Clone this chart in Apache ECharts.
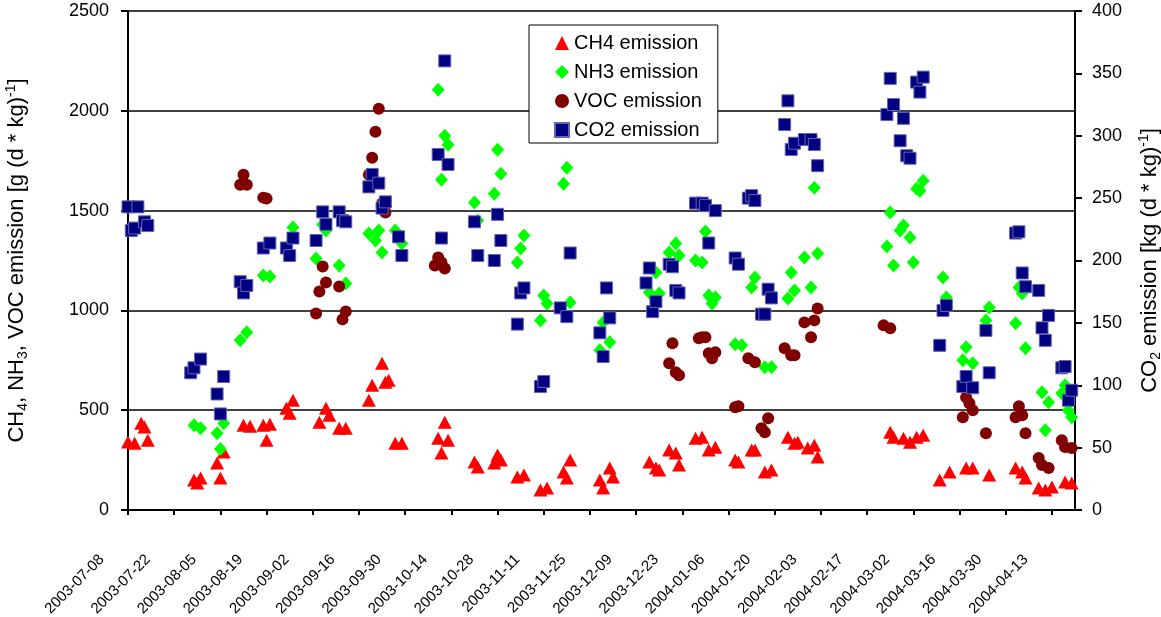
<!DOCTYPE html>
<html>
<head>
<meta charset="utf-8">
<script src="https://cdn.jsdelivr.net/npm/echarts@6/dist/echarts.min.js"></script>
<style>
  html, body { margin: 0; padding: 0; background: #fff; }
  #chart { width: 1161px; height: 617px; }
</style>
</head>
<body>
<div id="chart"></div>
<script>
// Daily emission measurements, July 2003 - April 2004
const ch4Dates = ['2003-07-08','2003-07-10','2003-07-12','2003-07-13','2003-07-14','2003-07-28','2003-07-29','2003-07-30','2003-08-04','2003-08-05','2003-08-06','2003-08-12','2003-08-14','2003-08-18','2003-08-19','2003-08-20','2003-08-25','2003-08-26','2003-08-27','2003-09-04','2003-09-06','2003-09-07','2003-09-10','2003-09-12','2003-09-19','2003-09-20','2003-09-23','2003-09-24','2003-09-25','2003-09-27','2003-09-29','2003-10-10','2003-10-11','2003-10-12','2003-10-13','2003-10-21','2003-10-22','2003-10-27','2003-10-28','2003-10-29','2003-11-03','2003-11-05','2003-11-10','2003-11-12','2003-11-17','2003-11-18','2003-11-19','2003-11-28','2003-11-29','2003-12-01','2003-12-02','2003-12-13','2003-12-15','2003-12-16','2003-12-19','2003-12-21','2003-12-22','2003-12-27','2003-12-29','2003-12-31','2004-01-02','2004-01-08','2004-01-09','2004-01-13','2004-01-14','2004-01-17','2004-01-19','2004-01-24','2004-01-26','2004-01-27','2004-01-30','2004-02-01','2004-02-02','2004-02-24','2004-02-25','2004-02-28','2004-03-01','2004-03-03','2004-03-05','2004-03-10','2004-03-13','2004-03-18','2004-03-20','2004-03-25','2004-04-02','2004-04-04','2004-04-05','2004-04-09','2004-04-11','2004-04-13','2004-04-17','2004-04-19'];
const ch4Values = [341,335,435,416,350,150,135,160,235,160,290,425,420,425,350,430,510,485,550,440,510,475,410,410,550,625,735,640,650,335,335,360,285,440,350,240,215,235,275,250,165,175,100,110,190,160,250,150,110,210,165,240,210,200,300,285,225,360,365,300,315,250,240,300,300,190,200,365,335,340,310,325,265,390,365,360,340,365,375,150,190,210,210,175,210,190,160,110,100,115,140,135];

const nh3Dates = ['2003-07-28','2003-07-30','2003-08-04','2003-08-05','2003-08-06','2003-08-11','2003-08-13','2003-08-18','2003-08-20','2003-08-25','2003-08-27','2003-09-03','2003-09-05','2003-09-06','2003-09-10','2003-09-12','2003-09-19','2003-09-21','2003-09-22','2003-09-23','2003-09-27','2003-09-29','2003-10-10','2003-10-11','2003-10-12','2003-10-13','2003-10-21','2003-10-22','2003-10-27','2003-10-28','2003-10-29','2003-11-03','2003-11-04','2003-11-05','2003-11-10','2003-11-11','2003-11-12','2003-11-17','2003-11-18','2003-11-19','2003-11-28','2003-11-29','2003-12-01','2003-12-13','2003-12-15','2003-12-16','2003-12-19','2003-12-21','2003-12-22','2003-12-27','2003-12-29','2003-12-30','2003-12-31','2004-01-01','2004-01-02','2004-01-08','2004-01-10','2004-01-13','2004-01-14','2004-01-17','2004-01-19','2004-01-24','2004-01-25','2004-01-26','2004-01-29','2004-01-31','2004-02-01','2004-02-02','2004-02-23','2004-02-24','2004-02-25','2004-02-27','2004-02-28','2004-03-01','2004-03-02','2004-03-03','2004-03-04','2004-03-05','2004-03-11','2004-03-12','2004-03-17','2004-03-18','2004-03-20','2004-03-24','2004-03-25','2004-04-02','2004-04-03','2004-04-04','2004-04-05','2004-04-10','2004-04-11','2004-04-12','2004-04-16','2004-04-17','2004-04-18','2004-04-19'];
const nh3Values = [425,410,385,305,435,850,890,1175,1170,1315,1415,1260,1430,1400,1225,1135,1385,1350,1400,1290,1400,1335,2105,1655,1875,1830,1540,1450,1585,1805,1685,1240,1310,1375,950,1075,1035,1635,1715,1040,800,940,840,1090,1190,1085,1290,1335,1275,1250,1240,1395,1075,1035,1065,830,825,1115,1165,715,715,1060,1190,1100,1265,1115,1615,1285,1320,1490,1225,1400,1425,1365,1240,1610,1600,1650,1165,1065,750,815,735,950,1015,935,1115,1085,810,590,400,540,585,625,500,465];

const vocDates = ['2003-08-11','2003-08-12','2003-08-13','2003-08-18','2003-08-19','2003-09-03','2003-09-04','2003-09-05','2003-09-06','2003-09-10','2003-09-11','2003-09-12','2003-09-19','2003-09-20','2003-09-21','2003-09-22','2003-09-23','2003-09-24','2003-10-09','2003-10-10','2003-10-11','2003-10-12','2003-12-19','2003-12-20','2003-12-21','2003-12-22','2003-12-28','2003-12-29','2003-12-30','2003-12-31','2004-01-01','2004-01-02','2004-01-08','2004-01-09','2004-01-12','2004-01-14','2004-01-16','2004-01-17','2004-01-18','2004-01-23','2004-01-25','2004-01-26','2004-01-29','2004-01-31','2004-02-01','2004-02-02','2004-02-22','2004-02-24','2004-03-17','2004-03-18','2004-03-19','2004-03-20','2004-03-24','2004-04-02','2004-04-03','2004-04-04','2004-04-05','2004-04-09','2004-04-10','2004-04-12','2004-04-16','2004-04-17','2004-04-19'];
const vocValues = [1630,1680,1630,1565,1560,985,1095,1220,1140,1120,955,995,1680,1765,1895,2010,1535,1490,1225,1265,1240,1210,735,835,690,675,860,865,865,785,760,790,515,520,760,740,410,390,460,810,775,775,940,865,950,1010,925,910,465,565,535,500,385,465,520,475,385,260,225,210,350,315,310];

const co2Dates = ['2003-07-08','2003-07-09','2003-07-10','2003-07-11','2003-07-13','2003-07-14','2003-07-27','2003-07-28','2003-07-30','2003-08-04','2003-08-05','2003-08-06','2003-08-11','2003-08-12','2003-08-13','2003-08-18','2003-08-20','2003-08-25','2003-08-26','2003-08-27','2003-09-03','2003-09-05','2003-09-06','2003-09-10','2003-09-11','2003-09-12','2003-09-19','2003-09-20','2003-09-22','2003-09-23','2003-09-24','2003-09-28','2003-09-29','2003-10-10','2003-10-11','2003-10-12','2003-10-13','2003-10-21','2003-10-22','2003-10-27','2003-10-28','2003-10-29','2003-11-03','2003-11-04','2003-11-05','2003-11-10','2003-11-11','2003-11-16','2003-11-18','2003-11-19','2003-11-28','2003-11-29','2003-11-30','2003-12-01','2003-12-12','2003-12-13','2003-12-14','2003-12-15','2003-12-19','2003-12-20','2003-12-21','2003-12-22','2003-12-27','2003-12-29','2003-12-30','2003-12-31','2004-01-02','2004-01-08','2004-01-09','2004-01-12','2004-01-13','2004-01-14','2004-01-16','2004-01-17','2004-01-18','2004-01-19','2004-01-23','2004-01-24','2004-01-25','2004-01-26','2004-01-29','2004-01-31','2004-02-01','2004-02-02','2004-02-23','2004-02-24','2004-02-25','2004-02-27','2004-02-28','2004-02-29','2004-03-01','2004-03-03','2004-03-04','2004-03-05','2004-03-10','2004-03-11','2004-03-12','2004-03-17','2004-03-18','2004-03-20','2004-03-24','2004-03-25','2004-04-02','2004-04-03','2004-04-04','2004-04-05','2004-04-09','2004-04-10','2004-04-11','2004-04-12','2004-04-16','2004-04-17','2004-04-18','2004-04-19'];
const co2Values = [243,224,226,243,231,228,110,114,121,93,77,107,183,174,180,210,214,210,204,218,216,239,229,239,232,231,259,269,262,242,247,219,204,285,218,360,277,231,204,200,237,216,149,174,178,99,103,162,155,206,142,123,178,154,182,194,159,167,197,195,176,174,246,246,244,214,240,202,197,250,252,248,157,157,177,170,309,328,289,294,297,297,293,276,317,346,325,296,314,284,282,343,335,347,132,160,164,99,107,98,144,110,222,223,190,179,176,146,136,156,114,115,88,96];

// Time axis: days counted from the first measurement day, ticks every two weeks
const startDate = '2003-07-08';
const endDate = '2004-04-20';
const tickDays = 14;

const DAY = 86400000;
function toUTC(s) {
  const p = s.split('-').map(Number);
  return Date.UTC(p[0], p[1] - 1, p[2]);
}
const t0 = toUTC(startDate);
function dayIndex(s) { return Math.round((toUTC(s) - t0) / DAY); }
function dayLabel(v) {
  const d = new Date(t0 + v * DAY);
  const mm = String(d.getUTCMonth() + 1).padStart(2, '0');
  const dd = String(d.getUTCDate()).padStart(2, '0');
  return d.getUTCFullYear() + '-' + mm + '-' + dd;
}
function pairs(dates, values) { return dates.map((d, i) => [dayIndex(d), values[i]]); }

const FONT = 'Liberation Sans, Arial, sans-serif';
const titleRich = {
  t: { fontSize: 22, fontFamily: FONT, color: '#000', lineHeight: 26 },
  s: { fontSize: 14, fontFamily: FONT, color: '#000', lineHeight: 26, verticalAlign: 'bottom' },
  p: { fontSize: 14, fontFamily: FONT, color: '#000', lineHeight: 26, verticalAlign: 'top' }
};

const chart = echarts.init(document.getElementById('chart'), null, { renderer: 'canvas' });
chart.setOption({
  animation: false,
  backgroundColor: '#fff',
  grid: { left: 128, right: 86, top: 11, bottom: 107, containLabel: false, outerBoundsMode: 'none' },
  legend: {
    orient: 'vertical',
    left: 529, top: 25,
    padding: [8, 16, 3, 25],
    itemWidth: 14, itemHeight: 14, itemGap: 9,
    backgroundColor: '#fff',
    borderColor: '#000', borderWidth: 1, borderRadius: 0,
    textStyle: { fontSize: 20, fontFamily: FONT, color: '#000' },
    data: ['CH4 emission', 'NH3 emission', 'VOC emission', 'CO2 emission']
  },
  xAxis: {
    type: 'value',
    min: 0, max: dayIndex(endDate), interval: tickDays,
    axisLine: { lineStyle: { color: '#000', width: 2 } },
    axisTick: { show: true, length: 5, lineStyle: { color: '#000', width: 2 } },
    splitLine: { show: false },
    axisLabel: {
      rotate: 45, margin: 21, fontSize: 15, fontFamily: FONT, color: '#000',
      padding: [0, 37, 0, 0], showMaxLabel: false, hideOverlap: false,
      formatter: v => (v % tickDays === 0 ? dayLabel(v) : '')
    }
  },
  yAxis: [{
    type: 'value', min: 0, max: 2500, interval: 500,
    position: 'left',
    name: '{t|CH}{s|4}{t|, NH}{s|3}{t|, VOC emission [g (d * kg)}{p|-1}{t|]}',
    nameLocation: 'middle', nameGap: 98, nameRotate: 90,
    nameTextStyle: { rich: titleRich },
    axisLine: { show: true, lineStyle: { color: '#000', width: 2 } },
    axisTick: { show: true, length: 7, lineStyle: { color: '#000', width: 2 } },
    axisLabel: { fontSize: 18, fontFamily: FONT, color: '#000', margin: 19, formatter: v => String(v) },
    splitLine: { show: true, lineStyle: { color: '#000', width: 1.5 } }
  }, {
    type: 'value', min: 0, max: 400, interval: 50,
    position: 'right',
    name: '{t|CO}{s|2}{t| emission [kg (d * kg)}{p|-1}{t|]}',
    nameLocation: 'middle', nameGap: 62, nameRotate: 90,
    nameTextStyle: { rich: titleRich },
    axisLine: { show: true, lineStyle: { color: '#000', width: 2 } },
    axisTick: { show: true, length: 7, lineStyle: { color: '#000', width: 2 } },
    axisLabel: { fontSize: 18, fontFamily: FONT, color: '#000', margin: 17, formatter: v => String(v) },
    splitLine: { show: false }
  }],
  series: [{
    name: 'CH4 emission', type: 'scatter', yAxisIndex: 0,
    symbol: 'triangle', symbolSize: [14, 13],
    itemStyle: { color: '#ff0000', opacity: 1 },
    data: pairs(ch4Dates, ch4Values)
  }, {
    name: 'NH3 emission', type: 'scatter', yAxisIndex: 0,
    symbol: 'diamond', symbolSize: [13, 14],
    itemStyle: { color: '#00ff00', opacity: 1 },
    data: pairs(nh3Dates, nh3Values)
  }, {
    name: 'VOC emission', type: 'scatter', yAxisIndex: 0,
    symbol: 'circle', symbolSize: 12,
    itemStyle: { color: '#800000', opacity: 1 },
    data: pairs(vocDates, vocValues)
  }, {
    name: 'CO2 emission', type: 'scatter', yAxisIndex: 1,
    symbol: 'rect', symbolSize: 12,
    itemStyle: { color: '#000080', borderColor: '#6464b4', borderWidth: 1, opacity: 1 },
    data: pairs(co2Dates, co2Values)
  }]
});
</script>
</body>
</html>
